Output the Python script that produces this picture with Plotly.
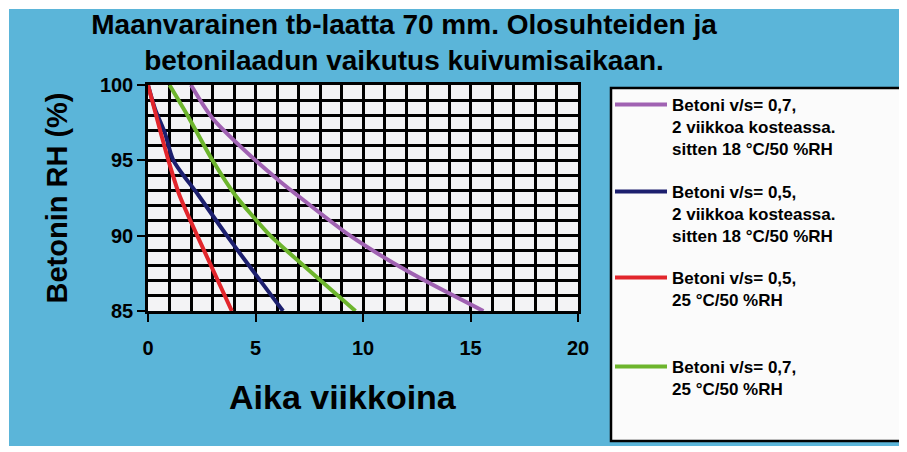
import plotly.graph_objects as go

# ---- data ----
purple_x = [2.0, 3.0, 5.0, 6.14, 7.2, 9.4, 12.0, 15.6]
purple_y = [100, 97.8, 95, 93.6, 92.4, 90, 87.7, 85]
navy_x = [0, 0.33, 0.79, 1.18, 2.34, 3.67, 6.28]
navy_y = [100, 98.4, 96.8, 95, 92.7, 90, 85]
red_x = [0, 0.6, 0.95, 1.46, 2.29, 3.9]
red_y = [100, 96.8, 95, 92.7, 90, 85]
green_x = [1.0, 1.91, 3.0, 4.05, 5.69, 6.14, 9.65]
green_y = [100, 97.8, 95, 92.7, 90, 89.4, 85]

names = [
    "Betoni v/s= 0,7,<br>2 viikkoa kosteassa.<br>sitten 18 °C/50 %RH",
    "Betoni v/s= 0,5,<br>2 viikkoa kosteassa.<br>sitten 18 °C/50 %RH",
    "Betoni v/s= 0,5,<br>25 °C/50 %RH",
    "Betoni v/s= 0,7,<br>25 °C/50 %RH",
]
colors = ["#a062b2", "#1c1f6e", "#e2262c", "#6db52d"]
x_ticks = [0, 5, 10, 15, 20]
y_ticks = [85, 90, 95, 100]

# The page body has an 8px margin, so the figure is laid out 8px up/left.
OFF = 8
W, H = 907 - OFF, 452 - OFF
ML, MR, MT, MB = 148 - OFF, 329, 85 - OFF, 141
BLUE = "#5bb5d9"
FONT = "Liberation Sans, Arial, sans-serif"

fig = go.Figure()
series = [(purple_x, purple_y), (navy_x, navy_y), (red_x, red_y), (green_x, green_y)]
legend_ids = ["legend", "legend2", "legend3", "legend4"]
for (xs, ys), nm, c, lg in zip(series, names, colors, legend_ids):
    fig.add_trace(go.Scatter(x=xs, y=ys, mode="lines", name=nm,
                             line=dict(color=c, width=4, shape="spline", smoothing=0.8),
                             legend=lg))

pw = W - ML - MR
ph = H - MT - MB
def px2paper_x(px):   # px given in screen (reference) pixels
    return (px - OFF - ML) / pw
def px2paper_y(py):
    return (H - MB - (py - OFF)) / ph

shapes = [
    # blue panel
    dict(type="rect", xref="paper", yref="paper", layer="below",
         x0=px2paper_x(9), x1=px2paper_x(905), y0=px2paper_y(446), y1=px2paper_y(9),
         fillcolor=BLUE, line=dict(width=0)),
    # plot area background
    dict(type="rect", xref="x", yref="y", layer="below",
         x0=0, x1=20, y0=85, y1=100, fillcolor="#f3f3f5", line=dict(width=0)),
    # legend box
    dict(type="rect", xref="paper", yref="paper", layer="below",
         x0=px2paper_x(611), x1=px2paper_x(904), y0=px2paper_y(441), y1=px2paper_y(88),
         fillcolor="#fbfbfb", line=dict(color="black", width=2.5)),
]

# first-line centres of the legend entries (screen px): 103, 190, 276, 365
legend_top = [103 - 16, 190 - 16, 276 - 16, 365 - 16]
leg_common = dict(xref="container", yref="container", xanchor="left", yanchor="top",
                  bgcolor="rgba(0,0,0,0)", borderwidth=0, valign="top",
                  itemwidth=52, font=dict(family=FONT, size=17, color="black", weight="bold"))
legends = {}
for lg, top in zip(legend_ids, legend_top):
    d = dict(leg_common)
    d.update(x=(610 - OFF) / W, y=1 - (top - OFF) / H)
    legends[lg] = d

axis_font = dict(family=FONT, size=20, color="black", weight="bold")
grid = dict(showgrid=True, gridcolor="black", gridwidth=2.5,
            zeroline=False, showline=True, linecolor="black", linewidth=2.5,
            ticks="outside", ticklen=8, tickwidth=2, tickcolor="black",
            tickfont=axis_font, mirror=True,
            minor=dict(dtick=1, showgrid=True, gridcolor="black", gridwidth=2.5, ticks=""))

fig.update_layout(
    width=W, height=H,
    margin=dict(l=ML, r=MR, t=MT, b=MB, autoexpand=False),
    paper_bgcolor="white",
    plot_bgcolor="rgba(0,0,0,0)",
    font=dict(family=FONT, color="black"),
    title=dict(text="Maanvarainen tb-laatta 70 mm. Olosuhteiden ja<br>betonilaadun vaikutus kuivumisaikaan.",
               xref="container", yref="container", x=(404 - OFF) / W, xanchor="center",
               y=1 - 26 / H, yanchor="top",
               font=dict(family=FONT, size=28, color="black", weight="bold")),
    xaxis=dict(range=[0, 20], tickvals=x_ticks, ticklabelstandoff=9, **grid),
    yaxis=dict(range=[85, 100], tickvals=y_ticks, ticklabelstandoff=0,
               title=dict(text="Betonin RH (%)", standoff=24,
                          font=dict(family=FONT, size=29, color="black", weight="bold")),
               **grid),
    annotations=[dict(text="Aika viikkoina", xref="paper", yref="paper",
                      x=px2paper_x(343), y=px2paper_y(397), xanchor="center", yanchor="middle",
                      showarrow=False,
                      font=dict(family=FONT, size=34, color="black", weight="bold"))],
    shapes=shapes,
    showlegend=True,
    **legends,
)

fig.write_html("out.html")
